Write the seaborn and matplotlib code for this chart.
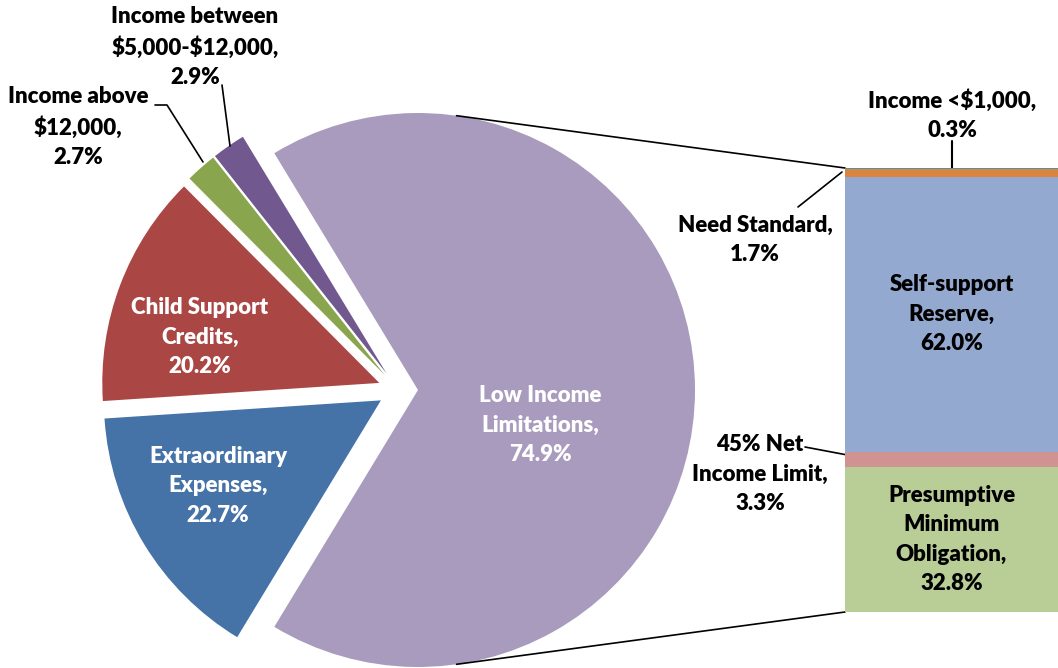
import numpy as np
import matplotlib.pyplot as plt
import seaborn as sns

# pie slices (counter-clockwise from top of the "other" slice)
pie_names = ["Income between\n$5,000-$12,000", "Income above\n$12,000",
             "Child Support\nCredits", "Extraordinary\nExpenses"]
pie_values = [2.9, 2.7, 20.2, 22.7]
pie_colors = ["#71588F", "#89A54E", "#AA4643", "#4572A7"]

other_name = "Low Income\nLimitations"
other_pct = 74.9
other_color = "#A99BBD"

# stacked bar (bottom to top)
bar_names = ["Presumptive\nMinimum\nObligation", "45% Net\nIncome Limit",
             "Self-support\nReserve", "Need Standard", "Income <$1,000"]
bar_values = [32.8, 3.3, 62.0, 1.7, 0.3]
bar_colors = ["#B9CD96", "#D19392", "#93A9CF", "#DB843D", "#4198AF"]

sns.set_theme(style="white")
plt.rcParams["font.family"] = ["Lato", "DejaVu Sans"]
plt.rcParams["text.parse_math"] = False

W, H = 1058, 668
fig = plt.figure(figsize=(W / 100, H / 100), dpi=100)
ax = fig.add_axes([0, 0, 1, 1])

def yy(y_img):
    return H - y_img

other_value = sum(bar_values)
values = pie_values + [other_value]
other_deg = 360 * other_value / sum(values)
cx, cy, r, expl = 398, yy(390), 277, 20
wedges, _ = ax.pie(values, colors=pie_colors + [other_color], center=(cx, cy),
                   radius=r, startangle=other_deg / 2, counterclock=True,
                   explode=[expl] * len(values), wedgeprops=dict(linewidth=0))
ax.set_xlim(0, W)
ax.set_ylim(0, H)
ax.set_aspect("equal")
ax.axis("off")

fs = 16
tkw = dict(ha="center", va="center", fontsize=fs, fontweight="heavy", linespacing=1.5)

# labels inside pie
ax.text(540, yy(425), f"{other_name},\n{other_pct:.1f}%", color="white", **tkw)
ax.text(218, yy(486), f"{pie_names[3]},\n{pie_values[3]:.1f}%", color="white", **tkw)
ax.text(200, yy(337), f"{pie_names[2]},\n{pie_values[2]:.1f}%", color="white", **tkw)
# outside labels
ax.text(78, yy(127), f"{pie_names[1]},\n{pie_values[1]:.1f}%", color="black", **tkw)
ax.text(195, yy(47), f"{pie_names[0]},\n{pie_values[0]:.1f}%", color="black", **tkw)
ax.plot([155, 167, 203], [yy(105), yy(105), yy(162)], color="black", lw=1.2)
ax.plot([222, 230], [yy(85), yy(146)], color="black", lw=1.2)

# bar
bx0, bx1, by0, by1 = 845, 1058, yy(612), yy(168)
bax = fig.add_axes([bx0 / W, by0 / H, (bx1 - bx0) / W, (by1 - by0) / H])
bottoms = np.concatenate([[0], np.cumsum(bar_values)[:-1]])
bax.bar(0, bar_values, bottom=bottoms, width=1, color=bar_colors, linewidth=0)
bax.set_xlim(-0.5, 0.5)
bax.set_ylim(0, sum(bar_values))
bax.axis("off")

for i in [0, 2]:
    bax.text(0, bottoms[i] + bar_values[i] / 2, f"{bar_names[i]},\n{bar_values[i]:.1f}%",
             color="black", **tkw)

ax.text(760, yy(474), f"{bar_names[1]},\n{bar_values[1]:.1f}%", color="black", **tkw)
ax.text(755, yy(240), f"{bar_names[3]},\n{bar_values[3]:.1f}%", color="black", **tkw)
ax.text(952, yy(115), f"{bar_names[4]},\n{bar_values[4]:.1f}%", color="black", **tkw)
ax.plot([805, 858], [yy(447), yy(457)], color="black", lw=1.2)
ax.plot([798, 842], [yy(207), yy(172)], color="black", lw=1.2)
ax.plot([952, 952], [yy(141), yy(169)], color="black", lw=1.5)

# connector lines from the exploded slice to the bar
ox = cx + expl
for sgn, yb in [(1, by1), (-1, by0)]:
    a = np.deg2rad(82 * sgn)
    ax.plot([ox + r * np.cos(a), bx0], [cy + r * np.sin(a), yb], color="black", lw=1.2)

fig.savefig("out.png", dpi=100)
